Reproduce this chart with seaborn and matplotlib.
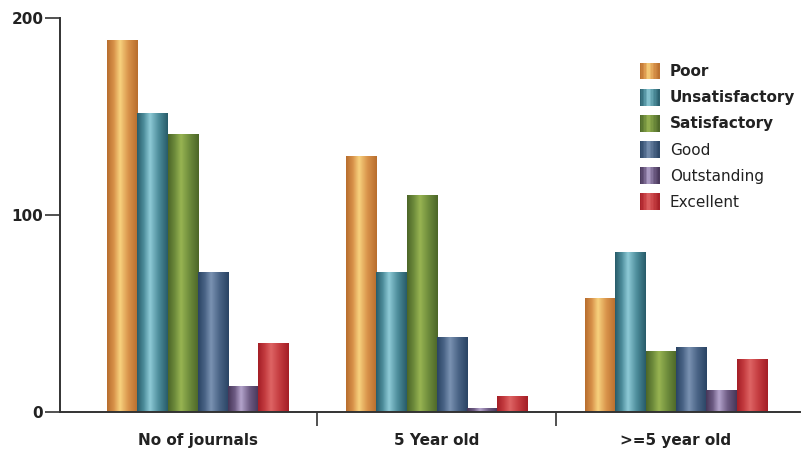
import numpy as np
import pandas as pd
import matplotlib
matplotlib.use("Agg")
import matplotlib.pyplot as plt
import seaborn as sns
from matplotlib.colors import LinearSegmentedColormap
from matplotlib.patches import Patch, Rectangle
from matplotlib.legend_handler import HandlerBase

categories = ["No of journals", "5 Year old", ">=5 year old"]
ratings = ["Poor", "Unsatisfactory", "Satisfactory", "Good", "Outstanding", "Excellent"]
poor = [189, 130, 58]
unsatisfactory = [152, 71, 81]
satisfactory = [141, 110, 31]
good = [71, 38, 33]
outstanding = [13, 2, 11]
excellent = [35, 8, 27]

values = {"Poor": poor, "Unsatisfactory": unsatisfactory, "Satisfactory": satisfactory,
          "Good": good, "Outstanding": outstanding, "Excellent": excellent}
rows = []
for r in ratings:
    for c, v in zip(categories, values[r]):
        rows.append({"category": c, "rating": r, "value": v})
df = pd.DataFrame(rows)

# (dark, light, base)
shades = {
    "Poor": ("#b86e2e", "#f8d27e", "#d8924a"),
    "Unsatisfactory": ("#285c6a", "#8ecad6", "#4e8e9c"),
    "Satisfactory": ("#4c6628", "#98b452", "#6e8c3c"),
    "Good": ("#2a4464", "#7a92b2", "#4a6486"),
    "Outstanding": ("#463658", "#b4a4cc", "#6e5c84"),
    "Excellent": ("#a41e26", "#de6464", "#c43c40"),
}
palette = {r: shades[r][2] for r in ratings}

def cmap_for(r):
    d, l, b = shades[r]
    return LinearSegmentedColormap.from_list(r, [(0, d), (0.22, b), (0.42, l), (0.7, b), (1, d)])

sns.set_style("white")
plt.rcParams['font.family'] = ['DejaVu Sans']
fig = plt.figure(figsize=(8.04, 4.51), dpi=100)
ax = fig.add_axes([60/804, 39/451, 740/804, 394/451])

sns.barplot(data=df, x="category", y="value", hue="rating", order=categories,
            hue_order=ratings, palette=palette, width=0.76, gap=0,
            saturation=1, ax=ax, legend=False, errorbar=None)

grad = np.linspace(0, 1, 64).reshape(1, -1)
for r, cont in zip(ratings, ax.containers):
    cm = cmap_for(r)
    for p in cont:
        x0 = p.get_x(); w = p.get_width(); h = p.get_height()
        if h <= 0:
            continue
        im = ax.imshow(grad, cmap=cm, aspect="auto", extent=(x0, x0 + w, 0, h),
                       interpolation="bilinear", zorder=p.get_zorder() + 0.1)
        im.set_clip_path(p)

ax.set_xlim(-0.577, 2.519)
ax.set_ylim(0, 200)
ax.set_yticks([0, 100, 200])
ax.set_xticks([0, 1, 2])
ax.set_xticklabels(categories)
ax.set_xticks([0.5, 1.5], minor=True)
ax.set_xlabel(""); ax.set_ylabel("")

for s in ["top", "right"]:
    ax.spines[s].set_visible(False)
for s in ["left", "bottom"]:
    ax.spines[s].set_color("#333333")
    ax.spines[s].set_linewidth(1.4)

ax.tick_params(axis="y", which="major", left=True, length=11, width=1.2, color="#333333",
               direction="out", pad=1, labelsize=11, labelcolor="#222222")
ax.tick_params(axis="x", which="major", bottom=True, length=0, pad=15, labelsize=11,
               labelcolor="#222222")
ax.tick_params(axis="x", which="minor", bottom=True, length=10, width=1.2, color="#333333",
               direction="out")
for t in ax.get_yticklabels() + ax.get_xticklabels():
    t.set_fontweight("bold")


class GradientHandler(HandlerBase):
    def create_artists(self, legend, orig_handle, xdescent, ydescent, width, height,
                       fontsize, trans):
        cm = cmap_for(orig_handle.get_label())
        n = 14
        arts = []
        for i in range(n):
            rect = Rectangle((-xdescent + width * i / n, -ydescent), width / n * 1.05, height,
                             facecolor=cm((i + 0.5) / n), edgecolor="none", transform=trans)
            arts.append(rect)
        return arts


handles = [Patch(facecolor=shades[r][2], edgecolor="none", label=r) for r in ratings]
leg = ax.legend(handles, ratings, loc="upper left", bbox_to_anchor=(0.7755, 0.902),
                frameon=False, fontsize=11, handlelength=1.3, handleheight=1.3,
                handletextpad=0.65, labelspacing=0.62, borderaxespad=0,
                handler_map={Patch: GradientHandler()})
for i, t in enumerate(leg.get_texts()):
    t.set_color("#222222")
    if i < 3:
        t.set_fontweight("bold")

fig.savefig("out.png", dpi=100)
